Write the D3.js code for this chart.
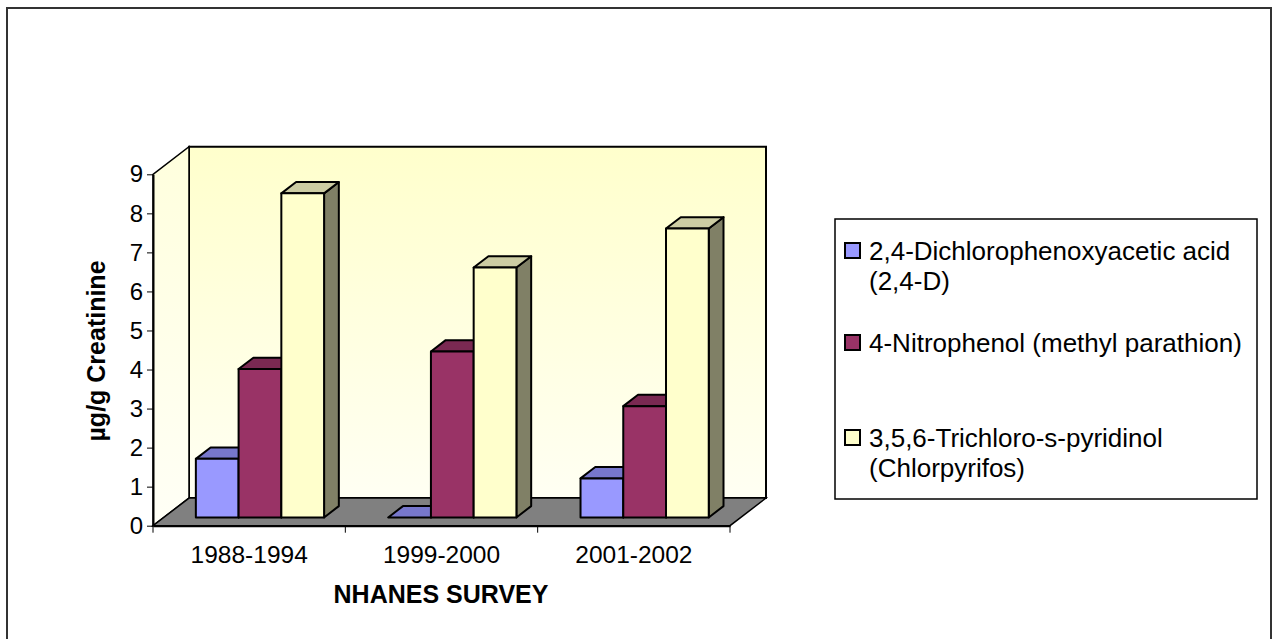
<!DOCTYPE html>
<html>
<head>
<meta charset="utf-8">
<script src="https://cdn.jsdelivr.net/npm/d3@7"></script>
<style>
  body { margin: 0; background: #fff; }
  text { font-family: "Liberation Sans", Arial, sans-serif; }
</style>
</head>
<body>
<div id="chart"></div>
<script>
// Data
const categories = ["1988-1994", "1999-2000", "2001-2002"];
const seriesNames = ["2,4-Dichlorophenoxyacetic acid (2,4-D)",
                     "4-Nitrophenol (methyl parathion)",
                     "3,5,6-Trichloro-s-pyridinol (Chlorpyrifos)"];
const legendLines = [["2,4-Dichlorophenoxyacetic acid", "(2,4-D)"],
                     ["4-Nitrophenol (methyl parathion)"],
                     ["3,5,6-Trichloro-s-pyridinol", "(Chlorpyrifos)"]];
const dcpaValues = [1.5, 0, 1.0];
const nitroValues = [3.8, 4.25, 2.85];
const tcpyValues = [8.3, 6.4, 7.4];
const yTicks = [0, 1, 2, 3, 4, 5, 6, 7, 8, 9];

// Frame / layout
const FRAME_WIDTH = 1277;
const FRAME_HEIGHT = 639;
const PLOT = {left: 153, right: 730, top: 174.3, bottom: 525.7};
const DEPTH = {dx: 36, dy: -27.6};
const BAR_T0 = 0.3, BAR_T1 = 0.71;

// face colours per series: front, top, side
const colors = [
  {front: "#9999FF", top: "#7777CC", side: "#5C5C99"},
  {front: "#993366", top: "#7A2952", side: "#5C1F3D"},
  {front: "#FFFFCC", top: "#CCCCA3", side: "#808066"}
];

const svg = d3.select("#chart")
  .append("svg")
    .attr("width", FRAME_WIDTH)
    .attr("height", FRAME_HEIGHT);

// gradients for walls
const defs = svg.append("defs");
const g1 = defs.append("linearGradient").attr("id", "backwall")
  .attr("x1", 0).attr("y1", 0).attr("x2", 0).attr("y2", 1);
g1.append("stop").attr("offset", "0%").attr("stop-color", "#FFFFCC");
g1.append("stop").attr("offset", "100%").attr("stop-color", "#FFFFF3");
const g2 = defs.append("linearGradient").attr("id", "sidewall")
  .attr("x1", 0).attr("y1", 0).attr("x2", 0).attr("y2", 1);
g2.append("stop").attr("offset", "0%").attr("stop-color", "#FFFFDD");
g2.append("stop").attr("offset", "100%").attr("stop-color", "#FFFFF6");

// outer border
svg.append("rect")
  .attr("x", 7).attr("y", 8)
  .attr("width", 1264).attr("height", 640)
  .attr("fill", "none")
  .attr("stroke", "#333")
  .attr("stroke-width", 2);

// scales
const Y = d3.scaleLinear().domain([0, 9]).range([PLOT.bottom, PLOT.top]);
const X0 = d3.scaleBand().domain(categories).range([PLOT.left, PLOT.right]);
const barW = X0.bandwidth() / 4.5;
const X1 = d3.scaleBand().domain(d3.range(3)).range([0.75 * barW, 3.75 * barW]);

// oblique projection: x in front plane, value, depth fraction t
function proj(x, v, t) {
  return [x + t * DEPTH.dx, Y(v) + t * DEPTH.dy];
}
const line = d3.line();
function poly(pts) { return line(pts) + "Z"; }

// walls & floor
svg.append("path")
  .attr("d", poly([proj(PLOT.left, 0, 1), proj(PLOT.left, 9, 1), proj(PLOT.right, 9, 1), proj(PLOT.right, 0, 1)]))
  .attr("fill", "url(#backwall)")
  .attr("stroke", "#000").attr("stroke-width", 2);
svg.append("path")
  .attr("d", poly([proj(PLOT.left, 0, 0), proj(PLOT.left, 9, 0), proj(PLOT.left, 9, 1), proj(PLOT.left, 0, 1)]))
  .attr("fill", "url(#sidewall)")
  .attr("stroke", "#000").attr("stroke-width", 1.5);
svg.append("path")
  .attr("d", poly([proj(PLOT.left, 0, 0), proj(PLOT.right, 0, 0), proj(PLOT.right, 0, 1), proj(PLOT.left, 0, 1)]))
  .attr("fill", "#808080")
  .attr("stroke", "#000").attr("stroke-width", 1.5);

// bars
const allValues = [dcpaValues, nitroValues, tcpyValues];
const bars = [];
categories.forEach((c, i) => {
  allValues.forEach((vals, j) => {
    bars.push({cat: c, s: j, v: vals[i]});
  });
});

const barG = svg.selectAll(".bar")
  .data(bars)
  .enter()
  .append("g")
    .attr("class", "bar");

barG.each(function(d) {
  const g = d3.select(this);
  const xl = X0(d.cat) + X1(d.s);
  const xr = xl + X1.bandwidth();
  const col = colors[d.s];
  g.append("path")
    .attr("d", poly([proj(xr, 0, BAR_T0), proj(xr, d.v, BAR_T0), proj(xr, d.v, BAR_T1), proj(xr, 0, BAR_T1)]))
    .attr("fill", col.side);
  g.append("path")
    .attr("d", poly([proj(xl, d.v, BAR_T0), proj(xr, d.v, BAR_T0), proj(xr, d.v, BAR_T1), proj(xl, d.v, BAR_T1)]))
    .attr("fill", col.top);
  if (d.v > 0) {
    g.append("path")
      .attr("d", poly([proj(xl, 0, BAR_T0), proj(xr, 0, BAR_T0), proj(xr, d.v, BAR_T0), proj(xl, d.v, BAR_T0)]))
      .attr("fill", col.front);
  }
  g.selectAll("path")
    .attr("stroke", "#000")
    .attr("stroke-width", 2)
    .attr("stroke-linejoin", "round");
});

// y axis
const yAxis = svg.append("g")
  .attr("transform", "translate(" + PLOT.left + ",0)")
  .call(d3.axisLeft(Y).tickValues(yTicks).tickSize(6).tickSizeOuter(0).tickPadding(4));
yAxis.select(".domain").attr("stroke-width", 2);
yAxis.selectAll("text")
  .attr("font-family", "Liberation Sans, Arial, sans-serif")
  .attr("font-size", "24px")
  .attr("fill", "#000");

// x axis: labels centred, ticks at band edges
const xAxis = svg.append("g")
  .attr("transform", "translate(0," + PLOT.bottom + ")")
  .call(d3.axisBottom(X0).tickSize(0).tickPadding(20));
xAxis.select(".domain").attr("stroke-width", 2);
xAxis.selectAll("text")
  .attr("font-family", "Liberation Sans, Arial, sans-serif")
  .attr("font-size", "24.5px")
  .attr("fill", "#000");
xAxis.selectAll(".edge")
  .data(categories.map(c => X0(c)).concat([PLOT.right]))
  .enter()
  .append("line")
    .attr("class", "edge")
    .attr("x1", d => d).attr("x2", d => d)
    .attr("y1", 0).attr("y2", 7)
    .attr("stroke", "#000");

// axis titles
svg.append("text")
  .attr("x", 441).attr("y", 603)
  .attr("text-anchor", "middle")
  .attr("font-size", "25px")
  .attr("font-weight", "bold")
  .text("NHANES SURVEY");
svg.append("text")
  .attr("transform", "translate(105,351) rotate(-90)")
  .attr("text-anchor", "middle")
  .attr("font-size", "25px")
  .attr("font-weight", "bold")
  .text("µg/g Creatinine");

// legend
const legendY = [260, 352, 447];
const legend = svg.append("g");
legend.append("rect")
  .attr("x", 835).attr("y", 219)
  .attr("width", 422).attr("height", 280)
  .attr("fill", "#fff")
  .attr("stroke", "#000").attr("stroke-width", 1.5);
legendLines.forEach((lines, j) => {
  legend.append("rect")
    .attr("x", 845).attr("y", legendY[j] - 17)
    .attr("width", 15).attr("height", 15)
    .attr("fill", colors[j].front)
    .attr("stroke", "#000").attr("stroke-width", 2);
  lines.forEach((t, k) => {
    legend.append("text")
      .attr("x", 869).attr("y", legendY[j] + k * 30)
      .attr("font-size", "26px")
      .text(t);
  });
});
</script>
</body>
</html>
